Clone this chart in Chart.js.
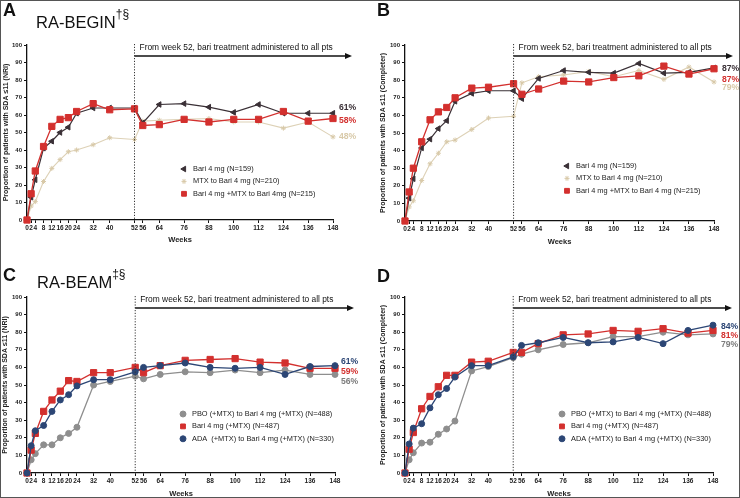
<!DOCTYPE html>
<html>
<head>
<meta charset="utf-8">
<script src="https://cdn.jsdelivr.net/npm/chart.js@4"></script>
<style>
  body { margin: 0; background: #fff; }
  #wrap { position: relative; width: 740px; height: 498px; overflow: hidden; font-family: Arial, 'Liberation Sans', sans-serif; color: #111; }
  canvas { position: absolute; }
  .frame { position: absolute; left: 0; top: 0; right: 0; bottom: 0; border: 1px solid #555; pointer-events: none; }
  .lab { position: absolute; font-weight: bold; font-size: 18px; line-height: 20px; }
  .ttl { position: absolute; font-size: 16.5px; line-height: 20px; white-space: nowrap; }
  .ttl sup { font-size: 12px; position: relative; top: -3px; }
</style>
</head>
<body>
<div id="wrap">
  <canvas id="cA" width="370" height="249" style="left:0;top:0"></canvas>
  <canvas id="cB" width="370" height="249" style="left:370px;top:0"></canvas>
  <canvas id="cC" width="370" height="249" style="left:0;top:249px"></canvas>
  <canvas id="cD" width="370" height="249" style="left:370px;top:249px"></canvas>
  <div class="lab" style="left:3px;top:0">A</div>
  <div class="lab" style="left:377px;top:0">B</div>
  <div class="lab" style="left:3px;top:265px">C</div>
  <div class="lab" style="left:377px;top:266px">D</div>
  <div class="ttl" style="left:36px;top:7px">RA-BEGIN<sup>†§</sup></div>
  <div class="ttl" style="left:37px;top:267px">RA-BEAM<sup>‡§</sup></div>
  <div class="frame"></div>
</div>
<script>
// weeks on the x axis
var weeks = [0, 2, 4, 8, 12, 16, 20, 24, 32, 40, 52, 56, 64, 76, 88, 100, 112, 124, 136, 148];

// RA-BEGIN, NRI
var beginNriBari  = [0, 13, 23, 41, 45, 50, 53, 61, 64, 64, 64, 55.5, 66, 66.5, 64.5, 61.5, 66, 61, 61, 61];
var beginNriMtx   = [0, 8, 10.5, 22, 29.5, 34.5, 39, 40, 43, 47, 46, 56.5, 57, 57.5, 58, 56, 56, 52.5, 56, 47.5];
var beginNriCombo = [0, 15, 28, 42, 53.5, 57.5, 58.5, 62, 66.5, 63, 63.5, 54, 54.5, 57.5, 56, 57.5, 57.5, 62, 56.5, 58];

// RA-BEGIN, completer
var beginCompBari  = [0, 13, 24, 41.5, 46.5, 52.5, 57, 68, 72.5, 74, 74, 69.5, 81, 85.5, 84.5, 84, 89.5, 84, 84.5, 87];
var beginCompMtx   = [0, 8, 11.5, 23, 32.5, 38.5, 45, 46, 52, 58.5, 59.5, 78.5, 82, 83, 85, 82, 85.5, 80.5, 87.5, 79];
var beginCompCombo = [0, 16.5, 30, 45, 57.5, 62, 64.5, 70, 75.5, 76, 78, 72, 75, 79.5, 79, 81.5, 82.5, 88, 83.5, 86.5];

// RA-BEAM, NRI
var beamNriPbo  = [0, 7.5, 11, 16, 16, 20, 22.5, 26, 50, 52, 55, 53.5, 56, 57.5, 57, 58.5, 57, 58.5, 56, 56];
var beamNriBari = [0, 13, 22.5, 35, 41.5, 46.5, 52.5, 52, 57, 57, 60, 57, 61, 64, 64.5, 65, 63, 62.5, 59.5, 59.5];
var beamNriAda  = [0, 15.5, 24, 27, 35, 41.5, 44.5, 49.5, 53, 53, 57.5, 60, 61, 62.5, 60, 59.5, 60, 56, 60.5, 61];

// RA-BEAM, completer
var beamCompPbo  = [0, 7.5, 11.5, 17, 17.5, 22, 25, 29.5, 58, 60.5, 65.5, 67.5, 70, 73, 74, 77.5, 77.5, 80, 78.5, 79];
var beamCompBari = [0, 13.5, 23, 36.5, 43.5, 49, 55.5, 55.5, 63, 63.5, 68.5, 68.5, 73.5, 78.5, 79, 81, 80.5, 82, 79.5, 81];
var beamCompAda  = [0, 16.5, 25.5, 28, 37, 44.5, 48, 54.5, 61, 61, 66, 72.5, 74, 77, 74, 74.5, 77, 73.5, 81, 84];

var note = 'From week 52, bari treatment administered to all pts';

var DARK = '#3a3036', BEIGE = '#d8c9a8', RED = '#d3302e', NAVY = '#2c4675', GREY = '#8e8e8e';
var FONT = "Arial, 'Liberation Sans', sans-serif";

function pts(vals) {
  return vals.map(function (v, i) { return { x: weeks[i], y: v }; });
}

var styles = {
  bari:  { color: DARK,  line: DARK,      point: 'triangle', rot: -90, r: 3.2, w: 1.2 },
  mtx:   { color: BEIGE, line: '#ddd1b6', point: 'star',     rot: 0,   r: 2.5, w: 1.1 },
  red:   { color: RED,   line: RED,       point: 'rect',     rot: 0,   r: 4.4, w: 1.3 },
  navy:  { color: NAVY,  line: NAVY,      point: 'circle',   rot: 0,   r: 3,   w: 1.3 },
  grey:  { color: GREY,  line: GREY,      point: 'circle',   rot: 0,   r: 3,   w: 1.3 }
};

var notesPlugin = {
  id: 'panelNotes',
  afterDatasetsDraw: function (chart) {
    var o = chart.options.plugins.panelNotes;
    var ctx = chart.ctx, a = chart.chartArea, x = chart.scales.x, y = chart.scales.y;
    var x52 = x.getPixelForValue(52);
    ctx.save();
    // dotted divider at week 52
    ctx.strokeStyle = '#333';
    ctx.lineWidth = 1;
    ctx.setLineDash([1.2, 1.6]);
    ctx.beginPath();
    ctx.moveTo(x52, a.top - 1);
    ctx.lineTo(x52, a.bottom);
    ctx.stroke();
    ctx.setLineDash([]);
    // arrow
    var ay = a.top + 11, ax = a.right + 13;
    ctx.strokeStyle = '#111';
    ctx.lineWidth = 1.3;
    ctx.beginPath();
    ctx.moveTo(x52, ay);
    ctx.lineTo(ax, ay);
    ctx.stroke();
    ctx.fillStyle = '#111';
    ctx.beginPath();
    ctx.moveTo(ax - 1, ay - 3);
    ctx.lineTo(ax + 6, ay);
    ctx.lineTo(ax - 1, ay + 3);
    ctx.closePath();
    ctx.fill();
    ctx.font = '8.4px ' + FONT;
    ctx.textBaseline = 'middle';
    ctx.textAlign = 'left';
    ctx.fillText(note, x52 + 5, a.top + 3);
    // end labels
    ctx.font = 'bold 8.6px ' + FONT;
    o.ends.forEach(function (e) {
      ctx.fillStyle = e.c;
      ctx.fillText(e.t, a.right + o.dx, y.getPixelForValue(e.at));
    });
    // legend
    ctx.font = '7.4px ' + FONT;
    o.legend.forEach(function (it, i) {
      var s = styles[it.s];
      var ly = o.ly + i * 12.4;
      ctx.fillStyle = s.color;
      ctx.strokeStyle = s.color;
      ctx.lineWidth = 1;
      Chart.helpers.drawPoint(ctx, { pointStyle: s.point, rotation: s.rot, radius: Math.min(s.r, 3.4), borderWidth: 1 }, o.lx, ly);
      ctx.fillStyle = '#222';
      ctx.fillText(it.t, o.lx + 9, ly);
    });
    ctx.restore();
  }
};

function makePanel(id, p) {
  var pl = Math.max(0, p.yTitleX - 4.2);
  var pb = Math.max(0, 249 - (p.xTitleY + 4.5));
  var ds = p.series.map(function (s) {
    var st = styles[s.s];
    return {
      data: pts(s.d),
      borderColor: st.line,
      backgroundColor: st.color,
      pointBorderColor: st.color,
      pointBackgroundColor: st.color,
      borderWidth: st.w,
      pointStyle: st.point,
      rotation: st.rot,
      pointRadius: st.r,
      pointBorderWidth: 1,
      tension: 0,
      clip: false,
      order: s.o
    };
  });
  new Chart(document.getElementById(id).getContext('2d'), {
    type: 'line',
    data: { datasets: ds },
    options: {
      responsive: false,
      animation: false,
      events: [],
      layout: { padding: { left: pl, top: p.top, right: 370 - p.right, bottom: pb } },
      plugins: {
        legend: { display: false },
        tooltip: { enabled: false },
        panelNotes: { ends: p.ends, dx: p.dx, legend: p.legend, lx: p.lx, ly: p.ly }
      },
      scales: {
        x: {
          type: 'linear',
          min: 0,
          max: 148,
          afterBuildTicks: function (s) { s.ticks = weeks.map(function (w) { return { value: w }; }); },
          afterFit: function (s) { s.height = 249 - pb - p.bottom; },
          ticks: { autoSkip: false, maxRotation: 0, padding: 1, color: '#222', font: { family: FONT, size: 6.5, weight: 'bold' } },
          grid: { display: true, drawOnChartArea: false, drawTicks: true, tickLength: 3, color: '#111', lineWidth: 1 },
          border: { display: true, color: '#111', width: 1.3 },
          title: { display: true, text: 'Weeks', padding: 0, color: '#222', font: { family: FONT, size: 7.5, weight: 'bold' } }
        },
        y: {
          min: 0,
          max: 100,
          afterFit: function (s) { s.width = p.left - pl; },
          ticks: { stepSize: 10, padding: 2, color: '#222', font: { family: FONT, size: 6, weight: 'bold' } },
          grid: { display: true, drawOnChartArea: false, drawTicks: true, tickLength: 3, color: '#111', lineWidth: 1 },
          border: { display: true, color: '#111', width: 1.3 },
          title: { display: true, text: p.yTitle, padding: 0, color: '#222', font: { family: FONT, size: 7, weight: 'bold' } }
        }
      }
    },
    plugins: [notesPlugin]
  });
}

makePanel('cA', {
  left: 27, right: 333, top: 45, bottom: 220, yTitleX: 6, xTitleY: 240,
  yTitle: 'Proportion of patients with SDA \u226411 (NRI)',
  series: [
    { s: 'bari', d: beginNriBari, o: 1 },
    { s: 'mtx', d: beginNriMtx, o: 2 },
    { s: 'red', d: beginNriCombo, o: 0 }
  ],
  legend: [
    { s: 'bari', t: 'Bari 4 mg (N=159)' },
    { s: 'mtx', t: 'MTX to Bari 4 mg (N=210)' },
    { s: 'red', t: 'Bari 4 mg +MTX to Bari 4mg (N=215)' }
  ],
  lx: 184, ly: 169,
  ends: [{ t: '61%', c: DARK, at: 64 }, { t: '58%', c: RED, at: 57 }, { t: '48%', c: BEIGE, at: 47.5 }],
  dx: 6
});

makePanel('cB', {
  left: 35, right: 344, top: 45, bottom: 221, yTitleX: 13, xTitleY: 242,
  yTitle: 'Proportion of patients with SDA \u226411 (Completer)',
  series: [
    { s: 'bari', d: beginCompBari, o: 1 },
    { s: 'mtx', d: beginCompMtx, o: 2 },
    { s: 'red', d: beginCompCombo, o: 0 }
  ],
  legend: [
    { s: 'bari', t: 'Bari 4 mg (N=159)' },
    { s: 'mtx', t: 'MTX to Bari 4 mg (N=210)' },
    { s: 'red', t: 'Bari 4 mg +MTX to Bari 4 mg (N=215)' }
  ],
  lx: 197, ly: 166,
  ends: [{ t: '87%', c: DARK, at: 86.5 }, { t: '87%', c: RED, at: 80.5 }, { t: '79%', c: BEIGE, at: 75.5 }],
  dx: 8
});

makePanel('cC', {
  left: 27, right: 335, top: 48, bottom: 224, yTitleX: 5, xTitleY: 245,
  yTitle: 'Proportion of patients with SDA \u226411 (NRI)',
  series: [
    { s: 'grey', d: beamNriPbo, o: 2 },
    { s: 'red', d: beamNriBari, o: 1 },
    { s: 'navy', d: beamNriAda, o: 0 }
  ],
  legend: [
    { s: 'grey', t: 'PBO (+MTX) to Bari 4 mg (+MTX) (N=488)' },
    { s: 'red', t: 'Bari 4 mg (+MTX) (N=487)' },
    { s: 'navy', t: 'ADA  (+MTX) to Bari 4 mg (+MTX) (N=330)' }
  ],
  lx: 183, ly: 165,
  ends: [{ t: '61%', c: NAVY, at: 63 }, { t: '59%', c: RED, at: 57.5 }, { t: '56%', c: '#7c7c7c', at: 52 }],
  dx: 6
});

makePanel('cD', {
  left: 35, right: 343, top: 48, bottom: 224, yTitleX: 13, xTitleY: 245,
  yTitle: 'Proportion of patients with SDA \u226411 (Completer)',
  series: [
    { s: 'grey', d: beamCompPbo, o: 2 },
    { s: 'red', d: beamCompBari, o: 1 },
    { s: 'navy', d: beamCompAda, o: 0 }
  ],
  legend: [
    { s: 'grey', t: 'PBO (+MTX) to Bari 4 mg (+MTX) (N=488)' },
    { s: 'red', t: 'Bari 4 mg (+MTX) (N=487)' },
    { s: 'navy', t: 'ADA (+MTX) to Bari 4 mg (+MTX) (N=330)' }
  ],
  lx: 192, ly: 165,
  ends: [{ t: '84%', c: NAVY, at: 83 }, { t: '81%', c: RED, at: 78 }, { t: '79%', c: '#7c7c7c', at: 72.7 }],
  dx: 8
});
</script>
</body>
</html>
